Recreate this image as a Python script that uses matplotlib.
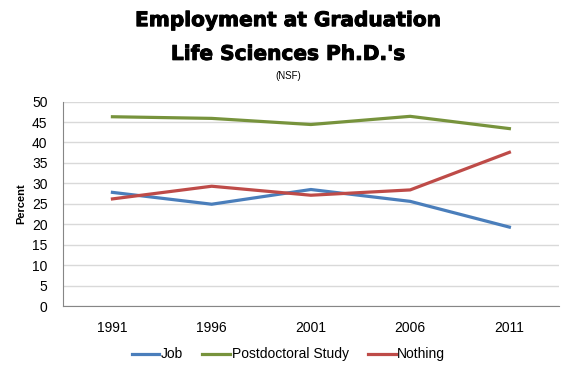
import matplotlib.pyplot as plt
import matplotlib.patheffects as pe

years = ["1991", "1996", "2001", "2006", "2011"]
job = [27.8, 24.9, 28.5, 25.6, 19.3]
postdoc = [46.3, 45.9, 44.4, 46.4, 43.4]
nothing = [26.2, 29.3, 27.1, 28.4, 37.6]

fig = plt.figure(figsize=(5.71, 3.75), dpi=100)
ax = fig.add_axes([0.11, 0.184, 0.869, 0.545])

x = range(len(years))
ax.plot(x, job, color="#4a7ebb", lw=2.3, label="Job")
ax.plot(x, postdoc, color="#77933c", lw=2.3, label="Postdoctoral Study")
ax.plot(x, nothing, color="#be4b48", lw=2.3, label="Nothing")

ax.set_xlim(-0.5, 4.5)
ax.set_ylim(0, 50)
ax.set_yticks(range(0, 51, 5))
ax.set_xticks(list(x))
ax.set_xticklabels(years)
ax.yaxis.grid(True, color="#d9d9d9", lw=1)
ax.set_axisbelow(True)
for s in ["top", "right"]:
    ax.spines[s].set_visible(False)
for s in ["left", "bottom"]:
    ax.spines[s].set_color("#868686")
ax.tick_params(length=0, labelsize=10, pad=11)
for lab in ax.get_xticklabels() + ax.get_yticklabels():
    lab.set_family("Liberation Sans")
ax.set_ylabel("Percent", fontsize=8, fontweight="bold", family="Liberation Sans", labelpad=4)

# heavy title (thickened with a stroke)
heavy = [pe.withStroke(linewidth=0.7, foreground="black")]
fig.text(0.505, 0.945, "Employment at Graduation", ha="center", va="center",
         fontsize=14.5, fontweight="heavy", family="DejaVu Sans", path_effects=heavy)
fig.text(0.505, 0.855, "Life Sciences Ph.D.'s", ha="center", va="center",
         fontsize=14.5, fontweight="heavy", family="DejaVu Sans", path_effects=heavy)
fig.text(0.505, 0.797, "(NSF)", ha="center", va="center", fontsize=7, family="Liberation Sans")

fig.legend(loc="center", bbox_to_anchor=(0.505, 0.055), ncol=3, frameon=False,
           prop={"family": "Liberation Sans", "size": 10}, handlelength=2.0,
           handletextpad=0.1, columnspacing=1.4)

fig.savefig("out.png", dpi=100)
